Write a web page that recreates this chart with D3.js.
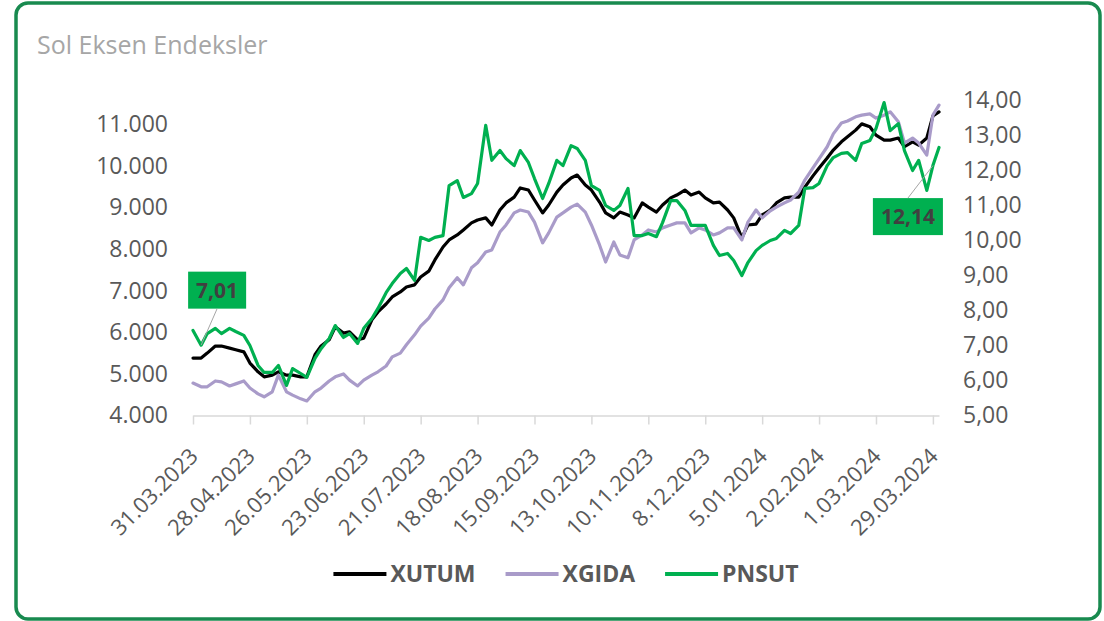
<!DOCTYPE html>
<html>
<head>
<meta charset="utf-8">
<script src="https://cdn.jsdelivr.net/npm/d3@7"></script>
<style>
  body { margin: 0; background: #fff; }
  svg { display: block; font-family: "Open Sans", sans-serif; }
</style>
</head>
<body>
<svg id="chart" width="1104" height="621"></svg>
<script>
// dates (twice a week)
const dates = [
  "31.03.2023","04.04.2023","07.04.2023","11.04.2023","14.04.2023","18.04.2023","21.04.2023","25.04.2023","28.04.2023",
  "02.05.2023","05.05.2023","09.05.2023","12.05.2023","16.05.2023","19.05.2023","23.05.2023","26.05.2023","30.05.2023",
  "02.06.2023","06.06.2023","09.06.2023","13.06.2023","16.06.2023","20.06.2023","23.06.2023","27.06.2023","30.06.2023",
  "04.07.2023","07.07.2023","11.07.2023","14.07.2023","18.07.2023","21.07.2023","25.07.2023","28.07.2023",
  "01.08.2023","04.08.2023","08.08.2023","11.08.2023","15.08.2023","18.08.2023","22.08.2023","25.08.2023","29.08.2023",
  "01.09.2023","05.09.2023","08.09.2023","12.09.2023","15.09.2023","19.09.2023","22.09.2023","26.09.2023","29.09.2023",
  "03.10.2023","06.10.2023","10.10.2023","13.10.2023","17.10.2023","20.10.2023","24.10.2023","27.10.2023","31.10.2023",
  "03.11.2023","07.11.2023","10.11.2023","14.11.2023","17.11.2023","21.11.2023","24.11.2023","28.11.2023",
  "01.12.2023","05.12.2023","08.12.2023","12.12.2023","15.12.2023","19.12.2023","22.12.2023","26.12.2023","29.12.2023",
  "02.01.2024","05.01.2024","09.01.2024","12.01.2024","16.01.2024","19.01.2024","23.01.2024","26.01.2024","30.01.2024",
  "02.02.2024","06.02.2024","09.02.2024","13.02.2024","16.02.2024","20.02.2024","23.02.2024","27.02.2024",
  "01.03.2024","05.03.2024","08.03.2024","12.03.2024","15.03.2024","19.03.2024","22.03.2024","26.03.2024","29.03.2024",
  "01.04.2024"
];

// left axis
const xutum = [
  5380, 5380, 5500, 5670, 5670, 5620, 5580, 5530, 5260,
  5050, 4930, 4970, 5050, 4970, 4970, 4930, 4930, 5460,
  5670, 5820, 6130, 5980, 6010, 5820, 5860, 6300, 6490,
  6680, 6850, 6970, 7090, 7140, 7330, 7470, 7740,
  8050, 8220, 8340, 8460, 8630, 8700, 8750, 8580, 8940,
  9110, 9250, 9470, 9420, 9180, 8870, 9060, 9370, 9540,
  9710, 9780, 9540, 9420, 9130, 8870, 8750, 8890, 8820,
  8750, 9110, 9010, 8890, 9060, 9230, 9300, 9420,
  9300, 9370, 9230, 9110, 9130, 8940, 8750, 8270, 8580,
  8600, 8820, 8940, 9110, 9230, 9250, 9250, 9490, 9760,
  9950, 10190, 10380, 10580, 10700, 10860, 11010, 10940,
  10740, 10620, 10620, 10670, 10460, 10580, 10500, 10670, 11200,
  11300
];

const xgida = [
  4780, 4690, 4690, 4830, 4810, 4710, 4760, 4830, 4660,
  4520, 4450, 4570, 4970, 4570, 4490, 4400, 4350, 4570,
  4660, 4830, 4930, 5000, 4850, 4710, 4850, 4970, 5050,
  5190, 5410, 5500, 5700, 5940, 6150, 6340, 6560,
  6780, 7070, 7310, 7140, 7550, 7670, 7930, 7980, 8410,
  8580, 8870, 8940, 8890, 8650, 8150, 8390, 8770, 8870,
  9010, 9080, 8890, 8580, 8100, 7690, 8170, 7860, 7790,
  8220, 8340, 8460, 8410, 8510, 8580, 8630, 8630,
  8390, 8510, 8460, 8340, 8390, 8510, 8510, 8220, 8650,
  8940, 8750, 8920, 9010, 9110, 9180, 9370, 9660, 9950,
  10170, 10460, 10770, 11030, 11080, 11180, 11220, 11250,
  11150, 11220, 11300, 11060, 10550, 10670, 10550, 10260, 11220,
  11460
];

// right axis
const pnsut = [
  7.43, 7.01, 7.34, 7.49, 7.34, 7.49, 7.40, 7.29, 7.00,
  6.43, 6.23, 6.23, 6.43, 5.86, 6.34, 6.20, 6.09, 6.63,
  6.91, 7.20, 7.57, 7.23, 7.34, 7.06, 7.49, 7.77, 8.06,
  8.51, 8.77, 9.06, 9.20, 8.86, 10.09, 10.00, 10.09,
  10.14, 11.57, 11.71, 11.23, 11.34, 11.63, 13.29, 12.29, 12.57,
  12.34, 12.14, 12.57, 12.23, 11.77, 11.20, 11.63, 12.29, 12.14,
  12.71, 12.63, 12.29, 11.57, 11.43, 11.00, 10.86, 11.00, 11.49,
  10.14, 10.14, 10.20, 10.11, 10.51, 11.14, 11.14, 10.86,
  10.43, 10.43, 10.43, 9.86, 9.57, 9.63, 9.43, 9.00, 9.37,
  9.71, 9.86, 10.00, 10.06, 10.29, 10.20, 10.43, 11.49, 11.51,
  11.63, 12.14, 12.37, 12.49, 12.51, 12.29, 12.77, 12.86,
  13.20, 13.94, 13.14, 13.34, 12.57, 12.00, 12.29, 11.43, 12.14,
  12.66
];

const tickDates = ["31.03.2023","28.04.2023","26.05.2023","23.06.2023","21.07.2023","18.08.2023","15.09.2023",
  "13.10.2023","10.11.2023","08.12.2023","05.01.2024","02.02.2024","01.03.2024","29.03.2024"];
const leftTicks = [4000, 5000, 6000, 7000, 8000, 9000, 10000, 11000];
const rightTicks = [5, 6, 7, 8, 9, 10, 11, 12, 13, 14];
const seriesNames = ["XUTUM", "XGIDA", "PNSUT"];
const labelledPoints = [1, 104]; // PNSUT points with a value label

// layout
const W = 1104, H = 621;
const plotLeft = 193, plotRight = 939, plotTop = 100.5, plotBottom = 415.5;
const seriesColors = ["#000000", "#a99bc9", "#00b050"];
const labelOffsets = [{ dx: 16, dy: -55 }, { dx: -25, dy: 51 }];
const textGray = "#595959";
const tickFont = 23;

const parseDate = d3.utcParse("%d.%m.%Y");
const trLocale = d3.formatLocale({ decimal: ",", thousands: ".", grouping: [3], currency: ["", " TL"] });
const fmtLeft = trLocale.format(",.0f");
const fmtRight = trLocale.format(",.2f");

const parsedDates = dates.map(parseDate);

const svg = d3.select("#chart");

// outer frame
svg.append("rect")
  .attr("x", 16).attr("y", 3)
  .attr("width", W - 20).attr("height", H - 5)
  .attr("rx", 12)
  .attr("fill", "#fff")
  .attr("stroke", "#188a4f")
  .attr("stroke-width", 3.5);

svg.append("text")
  .attr("x", 37).attr("y", 54)
  .attr("font-size", 25)
  .attr("fill", "#a6a6a6")
  .text("Sol Eksen Endeksler");

const x = d3.scaleUtc()
  .domain([parsedDates[0], parsedDates[parsedDates.length - 1]])
  .range([plotLeft, plotRight]);

const yLeft = d3.scaleLinear().domain([4000, 11572]).range([plotBottom, plotTop]);
const yRight = d3.scaleLinear().domain([5, 14]).range([plotBottom, plotTop]);

// left axis
svg.append("g")
  .attr("transform", `translate(${plotLeft},0)`)
  .call(d3.axisLeft(yLeft).tickValues(leftTicks).tickSize(0).tickPadding(25).tickFormat(fmtLeft))
  .call(g => g.select(".domain").remove())
  .selectAll("text")
  .attr("font-size", tickFont)
  .attr("font-family", "Open Sans")
  .attr("fill", textGray);

// right axis
svg.append("g")
  .attr("transform", `translate(${plotRight},0)`)
  .call(d3.axisRight(yRight).tickValues(rightTicks).tickSize(0).tickPadding(24).tickFormat(fmtRight))
  .call(g => g.select(".domain").remove())
  .selectAll("text")
  .attr("font-size", tickFont)
  .attr("font-family", "Open Sans")
  .attr("fill", textGray);

// date axis
const xAxis = svg.append("g")
  .attr("transform", `translate(0,${plotBottom})`)
  .call(d3.axisBottom(x)
    .tickValues(tickDates.map(parseDate))
    .tickSize(9).tickSizeOuter(0)
    .tickFormat(d3.utcFormat("%-d.%m.%Y")));

xAxis.select(".domain").attr("stroke", "#d9d9d9").attr("stroke-width", 1.5);
xAxis.selectAll(".tick line").attr("stroke", "#d9d9d9").attr("stroke-width", 1.5);
xAxis.selectAll(".tick text")
  .attr("font-size", 22)
  .attr("font-family", "Open Sans")
  .attr("fill", textGray)
  .attr("text-anchor", "end")
  .attr("x", 0).attr("y", 0).attr("dy", 0)
  .attr("transform", "translate(6,42) rotate(-45)");

// lines
const seriesValues = [xutum, xgida, pnsut];
const seriesScales = [yLeft, yLeft, yRight];

seriesNames.forEach((name, s) => {
  const line = d3.line()
    .x((d, i) => x(parsedDates[i]))
    .y(d => seriesScales[s](d));
  svg.append("path")
    .datum(seriesValues[s])
    .attr("d", line)
    .attr("fill", "none")
    .attr("stroke", seriesColors[s])
    .attr("stroke-width", 3.2)
    .attr("stroke-linejoin", "round")
    .attr("stroke-linecap", "round");
});

// value labels on PNSUT
labelledPoints.forEach((idx, k) => {
  const px = x(parsedDates[idx]);
  const py = yRight(pnsut[idx]);
  const cx = px + labelOffsets[k].dx;
  const cy = py + labelOffsets[k].dy;
  const g = svg.append("g");
  const t = g.append("text")
    .attr("x", cx).attr("y", cy)
    .attr("dy", "0.35em")
    .attr("text-anchor", "middle")
    .attr("font-size", 21)
    .attr("font-weight", "bold")
    .attr("fill", "#404040")
    .text(fmtRight(pnsut[idx]));
  const bw = t.node().getComputedTextLength() + 16;
  const bh = 37;
  g.insert("rect", "text")
    .attr("x", cx - bw / 2).attr("y", cy - bh / 2)
    .attr("width", bw).attr("height", bh)
    .attr("fill", "#00b050");
  const edgeY = labelOffsets[k].dy < 0 ? cy + bh / 2 : cy - bh / 2;
  svg.append("line")
    .attr("x1", cx).attr("y1", edgeY)
    .attr("x2", px).attr("y2", py)
    .attr("stroke", "#a6a6a6")
    .attr("stroke-width", 1);
});

// legend, centred under the plot
const legend = svg.append("g");
let lx = 0;
seriesNames.forEach((name, s) => {
  legend.append("line")
    .attr("x1", lx).attr("x2", lx + 53)
    .attr("y1", 0).attr("y2", 0)
    .attr("stroke", seriesColors[s])
    .attr("stroke-width", 4);
  const t = legend.append("text")
    .attr("x", lx + 57).attr("y", 0)
    .attr("dy", "0.35em")
    .attr("font-size", 23)
    .attr("font-weight", "bold")
    .attr("fill", textGray)
    .text(name);
  lx += 57 + t.node().getComputedTextLength() + 30;
});
const legendWidth = lx - 30;
legend.attr("transform", `translate(${(plotLeft + plotRight) / 2 - legendWidth / 2},574)`);
</script>
</body>
</html>
